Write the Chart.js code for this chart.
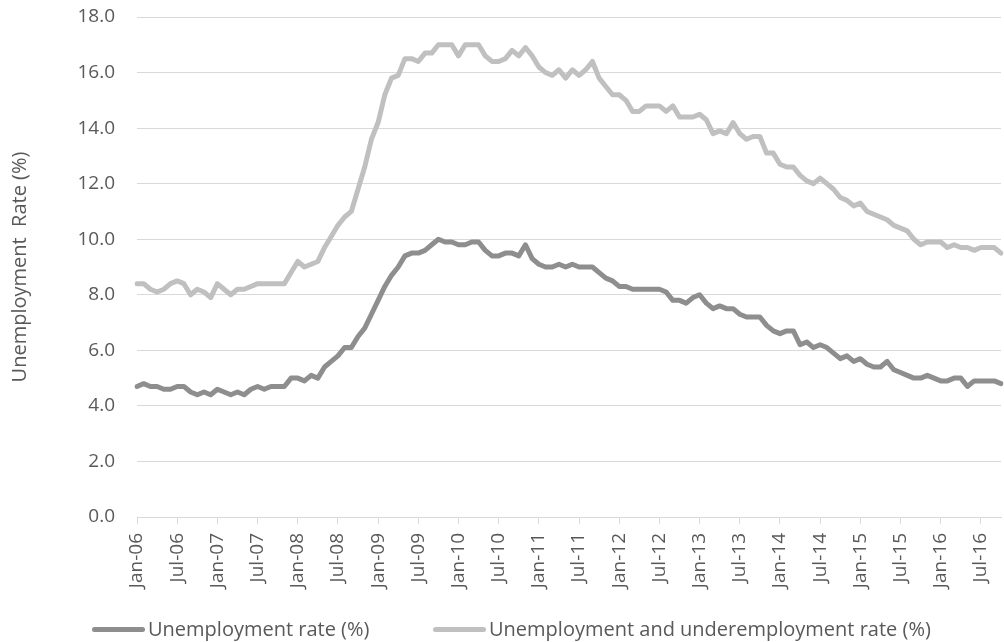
<!DOCTYPE html>
<html>
<head>
<meta charset="utf-8">
<script src="https://cdn.jsdelivr.net/npm/chart.js@4.4.1/dist/chart.umd.min.js"></script>
<style>
  body { margin: 0; background: #fff; }
  #wrap { position: relative; width: 1004px; height: 642px; font-family: 'Open Sans', sans-serif; }
  .leg { position: absolute; top: 616px; height: 26px; line-height: 26px; font-size: 20px; color: #595959; white-space: nowrap; }
  .leg span { display: inline-block; width: 53px; height: 5px; border-radius: 3px; vertical-align: middle; margin-right: 3px; position: relative; top: -1px; }
</style>
</head>
<body>
<div id="wrap">
  <canvas id="c" width="1004" height="642"></canvas>
  <div class="leg" style="left:92px"><span style="background:#8e8e8e"></span>Unemployment rate (%)</div>
  <div class="leg" style="left:433px"><span style="background:#c0c0c0"></span>Unemployment and underemployment rate (%)</div>
</div>
<script>
const years = ['06','07','08','09','10','11','12','13','14','15','16']
const monthNames = ['Jan','Feb','Mar','Apr','May','Jun','Jul','Aug','Sep','Oct','Nov','Dec']

// Jan-06 .. Oct-16
const unemployment = [
  4.7,4.8,4.7,4.7,4.6,4.6,4.7,4.7,4.5,4.4,4.5,4.4,
  4.6,4.5,4.4,4.5,4.4,4.6,4.7,4.6,4.7,4.7,4.7,5.0,
  5.0,4.9,5.1,5.0,5.4,5.6,5.8,6.1,6.1,6.5,6.8,7.3,
  7.8,8.3,8.7,9.0,9.4,9.5,9.5,9.6,9.8,10.0,9.9,9.9,
  9.8,9.8,9.9,9.9,9.6,9.4,9.4,9.5,9.5,9.4,9.8,9.3,
  9.1,9.0,9.0,9.1,9.0,9.1,9.0,9.0,9.0,8.8,8.6,8.5,
  8.3,8.3,8.2,8.2,8.2,8.2,8.2,8.1,7.8,7.8,7.7,7.9,
  8.0,7.7,7.5,7.6,7.5,7.5,7.3,7.2,7.2,7.2,6.9,6.7,
  6.6,6.7,6.7,6.2,6.3,6.1,6.2,6.1,5.9,5.7,5.8,5.6,
  5.7,5.5,5.4,5.4,5.6,5.3,5.2,5.1,5.0,5.0,5.1,5.0,
  4.9,4.9,5.0,5.0,4.7,4.9,4.9,4.9,4.9,4.8
]
const underemployment = [
  8.4,8.4,8.2,8.1,8.2,8.4,8.5,8.4,8.0,8.2,8.1,7.9,
  8.4,8.2,8.0,8.2,8.2,8.3,8.4,8.4,8.4,8.4,8.4,8.8,
  9.2,9.0,9.1,9.2,9.7,10.1,10.5,10.8,11.0,11.8,12.6,13.6,
  14.2,15.2,15.8,15.9,16.5,16.5,16.4,16.7,16.7,17.0,17.0,17.0,
  16.6,17.0,17.0,17.0,16.6,16.4,16.4,16.5,16.8,16.6,16.9,16.6,
  16.2,16.0,15.9,16.1,15.8,16.1,15.9,16.1,16.4,15.8,15.5,15.2,
  15.2,15.0,14.6,14.6,14.8,14.8,14.8,14.6,14.8,14.4,14.4,14.4,
  14.5,14.3,13.8,13.9,13.8,14.2,13.8,13.6,13.7,13.7,13.1,13.1,
  12.7,12.6,12.6,12.3,12.1,12.0,12.2,12.0,11.8,11.5,11.4,11.2,
  11.3,11.0,10.9,10.8,10.7,10.5,10.4,10.3,10.0,9.8,9.9,9.9,
  9.9,9.7,9.8,9.7,9.7,9.6,9.7,9.7,9.7,9.5
]

let labels = []
years.forEach(y => {
  monthNames.forEach(m => labels.push(m + '-' + y))
})
labels = labels.slice(0, unemployment.length)

const textColor = '#595959'
const gridColor = '#d9d9d9'
const fontFam = "'Open Sans', sans-serif"

new Chart(document.getElementById('c'), {
  type: 'line',
  data: {
    labels: labels,
    datasets: [{
      label: 'Unemployment rate (%)',
      data: unemployment,
      borderColor: '#8e8e8e',
      borderWidth: 5,
      pointRadius: 0,
      borderJoinStyle: 'round',
      borderCapStyle: 'round'
    }, {
      label: 'Unemployment and underemployment rate (%)',
      data: underemployment,
      borderColor: '#c0c0c0',
      borderWidth: 5,
      pointRadius: 0,
      borderJoinStyle: 'round',
      borderCapStyle: 'round'
    }]
  },
  options: {
    responsive: false,
    animation: false,
    devicePixelRatio: 1,
    layout: { padding: { top: 17, right: 3, bottom: 0, left: 0 } },
    plugins: {
      legend: { display: false },
      tooltip: { enabled: false }
    },
    scales: {
      y: {
        min: 0,
        max: 18,
        afterFit: (s) => {
          s.width = 137
          s.paddingTop = 0
          s.paddingBottom = 0
        },
        ticks: {
          stepSize: 2,
          padding: 22,
          color: textColor,
          font: { family: fontFam, size: 19 },
          callback: (v) => v.toFixed(1)
        },
        grid: { color: gridColor, lineWidth: 1, drawTicks: false },
        border: { display: false },
        title: {
          display: true,
          text: 'Unemployment  Rate (%)',
          color: textColor,
          font: { family: fontFam, size: 20 },
          padding: { top: 8, bottom: 0 }
        }
      },
      x: {
        afterFit: (s) => {
          s.height = 125
          s.paddingLeft = 0
          s.paddingRight = 0
        },
        ticks: {
          autoSkip: false,
          maxRotation: 90,
          minRotation: 90,
          padding: 9,
          color: textColor,
          font: { family: fontFam, size: 19 },
          callback: (v, i) => (i % 6 === 0 ? labels[i] : '')
        },
        grid: {
          drawOnChartArea: false,
          drawTicks: true,
          tickLength: 7,
          color: (ctx) => (ctx.index % 6 === 0 ? gridColor : 'rgba(0,0,0,0)')
        },
        border: { display: true, color: gridColor }
      }
    }
  }
})
</script>
</body>
</html>
